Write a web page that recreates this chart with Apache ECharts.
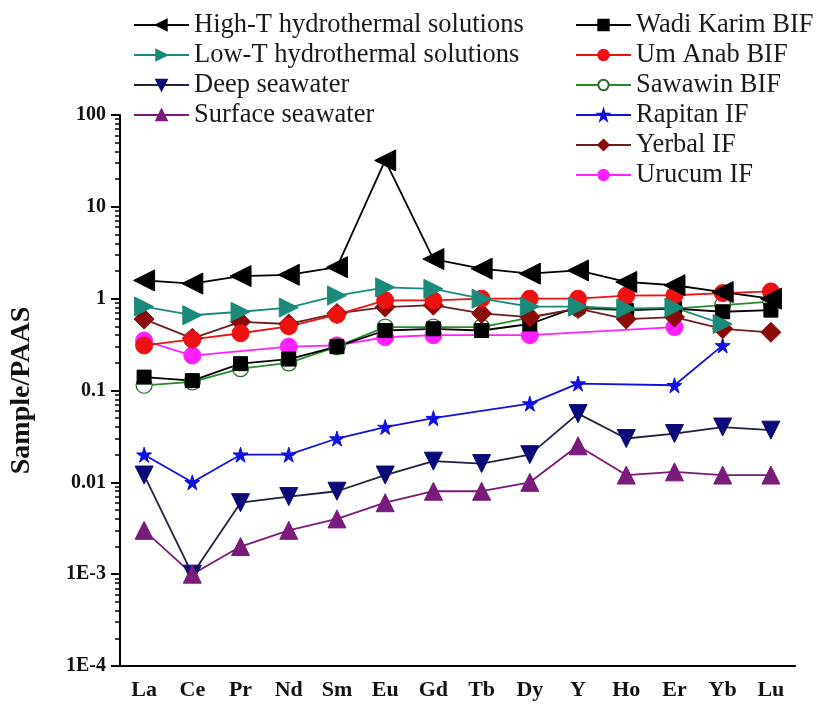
<!DOCTYPE html>
<html><head><meta charset="utf-8">
<script src="https://cdn.jsdelivr.net/npm/echarts@6/dist/echarts.min.js"></script>
<style>html,body{margin:0;padding:0;background:#fff}#c{width:816px;height:704px}</style>
</head><body><div id="c"></div>
<script>
const categories = ['La','Ce','Pr','Nd','Sm','Eu','Gd','Tb','Dy','Y','Ho','Er','Yb','Lu'];
const majorTicks = [0.0001, 0.001, 0.01, 0.1, 1, 10, 100];
const majorLabels = ['1E-4','1E-3','0.01','0.1','1','10','100'];
const minorMultipliers = [2,3,4,5,6,7,8,9];

const highT   = [1.58, 1.46, 1.76, 1.82, 2.2, 32, 2.7, 2.12, 1.87, 2.03, 1.52, 1.40, 1.18, 1.0];
const lowT    = [0.82, 0.66, 0.72, 0.80, 1.08, 1.33, 1.28, 1.0, 0.82, 0.82, 0.78, 0.80, 0.53, null];
const deepSW  = [0.012, 0.001, 0.006, 0.007, 0.008, 0.012, 0.017, 0.016, 0.020, 0.056, 0.030, 0.034, 0.040, 0.037];
const surfSW  = [0.003, 0.001, 0.002, 0.003, 0.004, 0.006, 0.008, 0.008, 0.010, 0.025, 0.012, 0.013, 0.012, 0.012];
const wadi    = [0.14, 0.128, 0.196, 0.22, 0.30, 0.45, 0.47, 0.45, 0.53, 0.82, 0.75, 0.78, 0.72, 0.75];
const umAnab  = [0.31, 0.36, 0.42, 0.50, 0.67, 0.96, 0.96, 1.0, 1.0, 1.0, 1.08, 1.09, 1.15, 1.2];
const sawawin = [0.114, 0.124, 0.173, 0.20, 0.30, 0.49, 0.49, 0.49, 0.62, 0.78, 0.75, 0.78, 0.85, 0.93];
const rapitan = [0.020, 0.010, 0.020, 0.020, 0.030, 0.040, 0.050, null, 0.072, 0.119, null, 0.114, 0.31, null];
const yerbal  = [0.60, 0.37, 0.56, 0.53, 0.69, 0.81, 0.85, 0.69, 0.63, 0.78, 0.60, 0.63, 0.47, 0.43];
const urucum  = [0.35, 0.24, null, 0.30, 0.31, 0.38, 0.40, null, 0.40, null, null, 0.49, null, null];

const minorTicks = [];
majorTicks.slice(0, -1).forEach(d => minorMultipliers.forEach(m => minorTicks.push(+(d*m).toPrecision(3))));

const serif = 'Liberation Serif, Times New Roman, serif';
const starPath = 'path://M50,0 L61,35 L98,35 L68,57 L79,91 L50,70 L21,91 L32,57 L2,35 L39,35 Z';

function mk(name, data, color, symbol, size, rot, extra) {
  return Object.assign({
    name, type: 'line', data, connectNulls: true,
    symbol, symbolSize: size, symbolRotate: rot || 0,
    lineStyle: { color, width: 1.8 },
    itemStyle: { color, borderColor: color, borderWidth: 1, opacity: 1 },
    emphasis: { disabled: true }, animation: false
  }, extra || {});
}

const series = [
  mk('Rapitan IF', rapitan, '#1010e0', starPath, 15),
  mk('Deep seawater', deepSW, '#0a0a78', 'triangle', 18, 180, { lineStyle: { color: '#202040', width: 1.8 } }),
  mk('Surface seawater', surfSW, '#7a1a7a', 'triangle', 18, 0),
  mk('Urucum IF', urucum, '#ff20ff', 'circle', 17),
  mk('Sawawin BIF', sawawin, '#2a8a2a', 'circle', 16, 0, { itemStyle: { color: '#ffffff', borderColor: '#2a6a2a', borderWidth: 1.2 } }),
  mk('Wadi Karim BIF', wadi, '#000000', 'rect', 14),
  mk('Yerbal IF', yerbal, '#8b0a0a', 'diamond', 20, 0, { lineStyle: { color: '#6a2020', width: 1.8 } }),
  mk('Um Anab BIF', umAnab, '#ee1111', 'circle', 17),
  mk('Low-T hydrothermal solutions', lowT, '#1a8a7a', 'triangle', 19, -90),
  mk('High-T hydrothermal solutions', highT, '#000000', 'triangle', 21, 90)
];

const legendText = { fontFamily: serif, fontSize: 26.5, color: '#1a1a1a', lineHeight: 30 };
const chart = echarts.init(document.getElementById('c'), null, { renderer: 'canvas' });
chart.setOption({
  backgroundColor: '#ffffff',
  animation: false,
  legend: [
    { data: ['High-T hydrothermal solutions','Low-T hydrothermal solutions','Deep seawater','Surface seawater'],
      orient: 'vertical', left: 133, top: 10, itemWidth: 55, itemHeight: 13, itemGap: 0, padding: 0,
      textStyle: legendText, selectedMode: false },
    { data: ['Wadi Karim BIF','Um Anab BIF','Sawawin BIF','Rapitan IF','Yerbal IF','Urucum IF'],
      orient: 'vertical', left: 575, top: 10, itemWidth: 55, itemHeight: 13, itemGap: 0, padding: 0,
      textStyle: legendText, selectedMode: false }
  ],
  grid: { left: 112, right: 21, top: 115, bottom: 38, containLabel: false },
  xAxis: {
    type: 'category', data: categories, boundaryGap: true,
    axisLine: { lineStyle: { color: '#000', width: 2 } },
    axisTick: { alignWithLabel: true, length: 9, lineStyle: { color: '#000', width: 2 } },
    axisLabel: { fontFamily: serif, fontWeight: 'bold', fontSize: 22, color: '#111', margin: 13 },
    splitLine: { show: false }
  },
  yAxis: [
    { type: 'log', logBase: 10, min: 0.0001, max: 100,
      name: 'Sample/PAAS', nameLocation: 'middle', nameRotate: 90, nameGap: 84,
      nameTextStyle: { fontFamily: serif, fontWeight: 'bold', fontSize: 28, color: '#111' },
      axisLine: { show: true, lineStyle: { color: '#000', width: 2 } },
      axisTick: { show: true, length: 9, lineStyle: { color: '#000', width: 2 } },
      axisLabel: { fontFamily: serif, fontWeight: 'bold', fontSize: 20, color: '#111', margin: 14,
        formatter: v => { const i = majorTicks.findIndex(t => Math.abs(Math.log10(t) - Math.log10(v)) < 1e-6); return i >= 0 ? majorLabels[i] : ''; } },
      splitLine: { show: false }, minorTick: { show: false }
    },
    { type: 'log', logBase: 10, min: 0.0001, max: 100, position: 'left',
      axisLine: { show: false },
      axisTick: { show: true, length: 5, customValues: minorTicks, lineStyle: { color: '#000', width: 1.5 } },
      axisLabel: { show: false }, splitLine: { show: false }
    }
  ],
  series
});
</script></body></html>
